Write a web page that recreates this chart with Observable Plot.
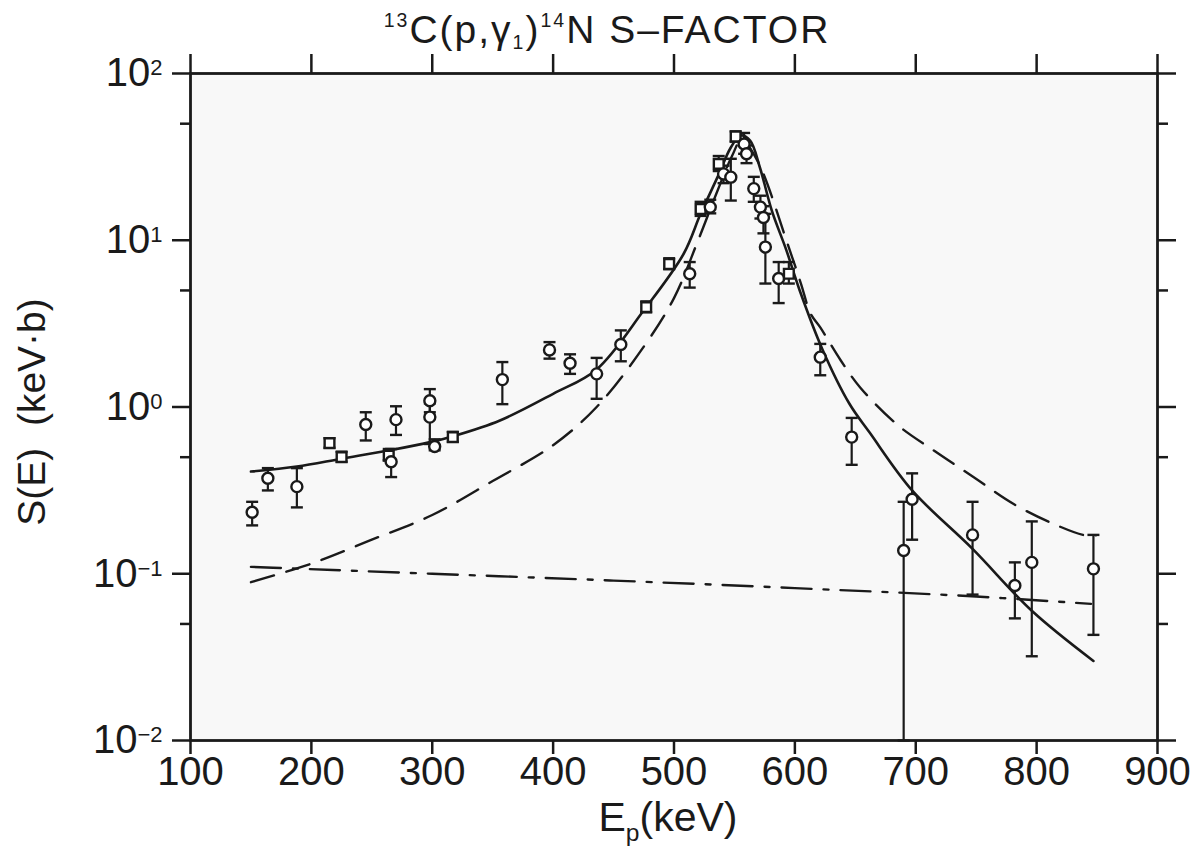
<!DOCTYPE html>
<html>
<head>
<meta charset="utf-8">
<script src="https://cdn.jsdelivr.net/npm/d3@7"></script>
<script src="https://cdn.jsdelivr.net/npm/@observablehq/plot@0.6"></script>
<style>
  body { margin: 0; background: #fff; }
  #wrap { position: relative; width: 1192px; height: 858px; overflow: hidden; color: #1a1a1a; }
  .ov { position: absolute; white-space: nowrap; line-height: 1; color: #1a1a1a; }
  #title { top: 10px; left: 607px; transform: translateX(-50%); font-family: "Liberation Sans", Arial, sans-serif; font-size: 39px; letter-spacing: 2px; }
  #title sup, #title sub { font-size: 0.5em; }
  #title sup { vertical-align: 0.8em; }
  #title sub { vertical-align: -0.3em; }
  #ylab { left: 31px; top: 412px; transform: translate(-50%, -50%) rotate(-90deg); font-family: "Liberation Sans", Arial, sans-serif; font-size: 39px; }
  #xlab { left: 668px; top: 797px; transform: translateX(-50%); font-family: "Liberation Sans", Arial, sans-serif; font-size: 41px; }
  #xlab sub { font-size: 0.6em; vertical-align: -0.4em; line-height: 0; }
</style>
</head>
<body>
<div id="wrap">
  <div class="ov" id="title"><sup>13</sup>C(p,γ<sub>1</sub>)<sup>14</sup>N S–FACTOR</div>
  <div class="ov" id="ylab">S(E)&nbsp;&nbsp;(keV·b)</div>
  <div class="ov" id="xlab">E<sub>p</sub>(keV)</div>
</div>
<script>
// ---- axis ticks / labels ----
const xTicks = [100, 200, 300, 400, 500, 600, 700, 800, 900];
const yTicks = [0.01, 0.1, 1, 10, 100];
const yTickLabels = ["10⁻²", "10⁻¹", "10⁰", "10¹", "10²"];
const yTickExp = ["−2", "−1", "0", "1", "2"];
const yMinorTicks = [0.05, 0.5, 5, 50];

// ---- solid curve (total fit) ----
const solidE = [150, 188, 225, 265, 300, 318, 356, 400, 436, 475, 508, 522, 536, 547, 555, 563, 571, 581, 593, 604, 623, 645, 662, 697, 747, 796, 847];
const solidS = [0.41, 0.44, 0.49, 0.55, 0.62, 0.67, 0.83, 1.2, 1.68, 3.8, 8.3, 14.4, 23.9, 36, 42.5, 39.6, 27.4, 15, 8.7, 5.0, 2.2, 1.05, 0.7, 0.316, 0.141, 0.060, 0.030];

// ---- dashed curve (resonance) ----
const dashE = [150, 200, 250, 300, 350, 400, 436, 475, 500, 520, 535, 548, 556, 569, 594, 605, 613, 621, 638, 654, 685, 715, 748, 781, 814, 840, 849];
const dashS = [0.089, 0.115, 0.16, 0.225, 0.36, 0.59, 1.0, 2.3, 4.5, 10, 19, 32, 40, 30, 9.5, 5.5, 3.63, 3.0, 1.9, 1.31, 0.78, 0.548, 0.379, 0.262, 0.199, 0.17, 0.17];

// ---- dash-dot curve (direct capture) ----
const ddE = [150, 300, 450, 600, 750, 845];
const ddS = [0.110, 0.100, 0.091, 0.082, 0.073, 0.066];

// ---- data points ----
const ptE  = [151, 164, 188, 215, 225, 245, 264, 266, 270, 298, 298, 302, 317, 358, 397, 414, 436, 456, 477, 496, 513, 522, 530, 537, 541, 547, 551, 558, 560, 566, 571.5, 574, 575.6, 586.6, 595, 621, 647, 690, 697, 747, 782, 796, 847];
const ptS  = [0.234, 0.374, 0.333, 0.607, 0.50, 0.785, 0.51, 0.47, 0.84, 1.09, 0.87, 0.58, 0.66, 1.46, 2.2, 1.83, 1.58, 2.37, 3.97, 7.2, 6.3, 15.4, 15.8, 28.7, 25, 23.9, 41.9, 37.8, 33, 20.4, 15.8, 13.7, 9.1, 5.9, 6.3, 1.99, 0.66, 0.138, 0.28, 0.171, 0.085, 0.117, 0.107];
const ptLo = [0.195, 0.316, 0.25, 0.57, 0.47, 0.63, 0.48, 0.38, 0.68, 0.93, 0.60, 0.55, 0.62, 1.04, 1.95, 1.58, 1.12, 1.88, 3.7, 6.7, 5.2, 14, 14.5, 26, 22, 17.3, 39, 33, 29, 17, 13.5, 11, 5.5, 4.2, 5.5, 1.55, 0.45, 0.01, 0.16, 0.075, 0.054, 0.032, 0.043];
const ptHi = [0.27, 0.43, 0.43, 0.65, 0.54, 0.93, 0.56, 0.56, 1.01, 1.28, 1.05, 0.64, 0.71, 1.86, 2.45, 2.07, 1.97, 2.88, 4.3, 7.8, 7.4, 17, 17.5, 32, 28, 30.8, 45, 44, 37, 24, 18.5, 16, 14.4, 7.4, 7.4, 2.39, 0.86, 0.27, 0.40, 0.27, 0.117, 0.206, 0.171];
const ptShape = ["circle", "circle", "circle", "square", "square", "circle", "square", "circle", "circle", "circle", "circle", "circle", "square", "circle", "circle", "circle", "circle", "circle", "square", "square", "circle", "square", "circle", "square", "circle", "circle", "square", "circle", "circle", "circle", "circle", "circle", "circle", "circle", "square", "circle", "circle", "circle", "circle", "circle", "circle", "circle", "circle"];

// ---- build tables ----
const solid = solidE.map((E, i) => ({E, S: solidS[i]}));
const dashed = dashE.map((E, i) => ({E, S: dashS[i]}));
const dashdot = ddE.map((E, i) => ({E, S: ddS[i]}));
const points = ptE.map((E, i) => ({E, S: ptS[i], lo: ptLo[i], hi: ptHi[i], shape: ptShape[i]}));

const ink = "#1a1a1a";
const capSymbol = { draw(ctx, size) { const w = Math.sqrt(size / Math.PI); ctx.moveTo(-w, 0); ctx.lineTo(w, 0); } };

const chart = Plot.plot({
  width: 1192,
  height: 858,
  marginLeft: 190,
  marginRight: 35,
  marginTop: 73,
  marginBottom: 118,
  x: { domain: [100, 900] },
  y: { type: "log", domain: [0.01, 100] },
  symbol: { domain: ["circle", "square"], range: ["circle", "square"] },
  style: { fontFamily: "'Liberation Sans', Arial, sans-serif", fontSize: "40px", color: ink, background: "transparent" },
  marks: [
    Plot.frame({ fill: "#f8f8f8", stroke: null }),
    Plot.axisX({ anchor: "bottom", ticks: xTicks, tickSize: 14, tickPadding: 2, tickFormat: d => String(d), label: null, strokeWidth: 2.5 }),
    Plot.axisX({ anchor: "top", ticks: xTicks, tickSize: 20, tickFormat: () => "", label: null, strokeWidth: 2.5 }),
    Plot.axisY({ anchor: "left", ticks: yTicks, tickSize: 18, tickPadding: 10, tickFormat: d => yTickLabels[yTicks.indexOf(d)], label: null, strokeWidth: 2.5 }),
    Plot.axisY({ anchor: "left", ticks: yMinorTicks, tickSize: 10, tickFormat: () => "", label: null, strokeWidth: 2.5 }),
    Plot.axisY({ anchor: "right", ticks: yTicks, tickSize: 18, tickFormat: () => "", label: null, strokeWidth: 2.5 }),
    Plot.axisY({ anchor: "right", ticks: yMinorTicks, tickSize: 10, tickFormat: () => "", label: null, strokeWidth: 2.5 }),
    Plot.frame({ stroke: ink, strokeWidth: 2.8 }),
    Plot.line(dashdot, { x: "E", y: "S", curve: "monotone-x", stroke: ink, strokeWidth: 2.4, strokeDasharray: "30,12,5,12" }),
    Plot.line(dashed, { x: "E", y: "S", curve: "catmull-rom", stroke: ink, strokeWidth: 2.4, strokeDasharray: "24,13" }),
    Plot.line(solid, { x: "E", y: "S", curve: "catmull-rom", stroke: ink, strokeWidth: 2.6 }),
    Plot.ruleX(points, { x: "E", y1: "lo", y2: "hi", stroke: ink, strokeWidth: 2.2 }),
    Plot.dot(points, { x: "E", y: "lo", symbol: capSymbol, r: 6, stroke: ink, strokeWidth: 2.4 }),
    Plot.dot(points, { x: "E", y: "hi", symbol: capSymbol, r: 6, stroke: ink, strokeWidth: 2.4 }),
    Plot.dot(points, { x: "E", y: "S", symbol: "shape", r: 5.5, fill: "#fff", stroke: ink, strokeWidth: 2.4 })
  ]
});

document.getElementById("wrap").prepend(chart);
chart.style.position = "absolute";
chart.style.left = "0";
chart.style.top = "0";

// superscript exponents on the y tick labels
d3.select(chart).selectAll("g[aria-label='y-axis tick label'] text").each(function () {
  const t = this.textContent;
  const i = yTickLabels.indexOf(t);
  if (i < 0) return;
  const sel = d3.select(this);
  sel.text("");
  sel.append("tspan").text("10");
  sel.append("tspan").attr("dy", "-0.5em").attr("font-size", "0.55em").text(yTickExp[i]);
});
</script>
</body>
</html>
